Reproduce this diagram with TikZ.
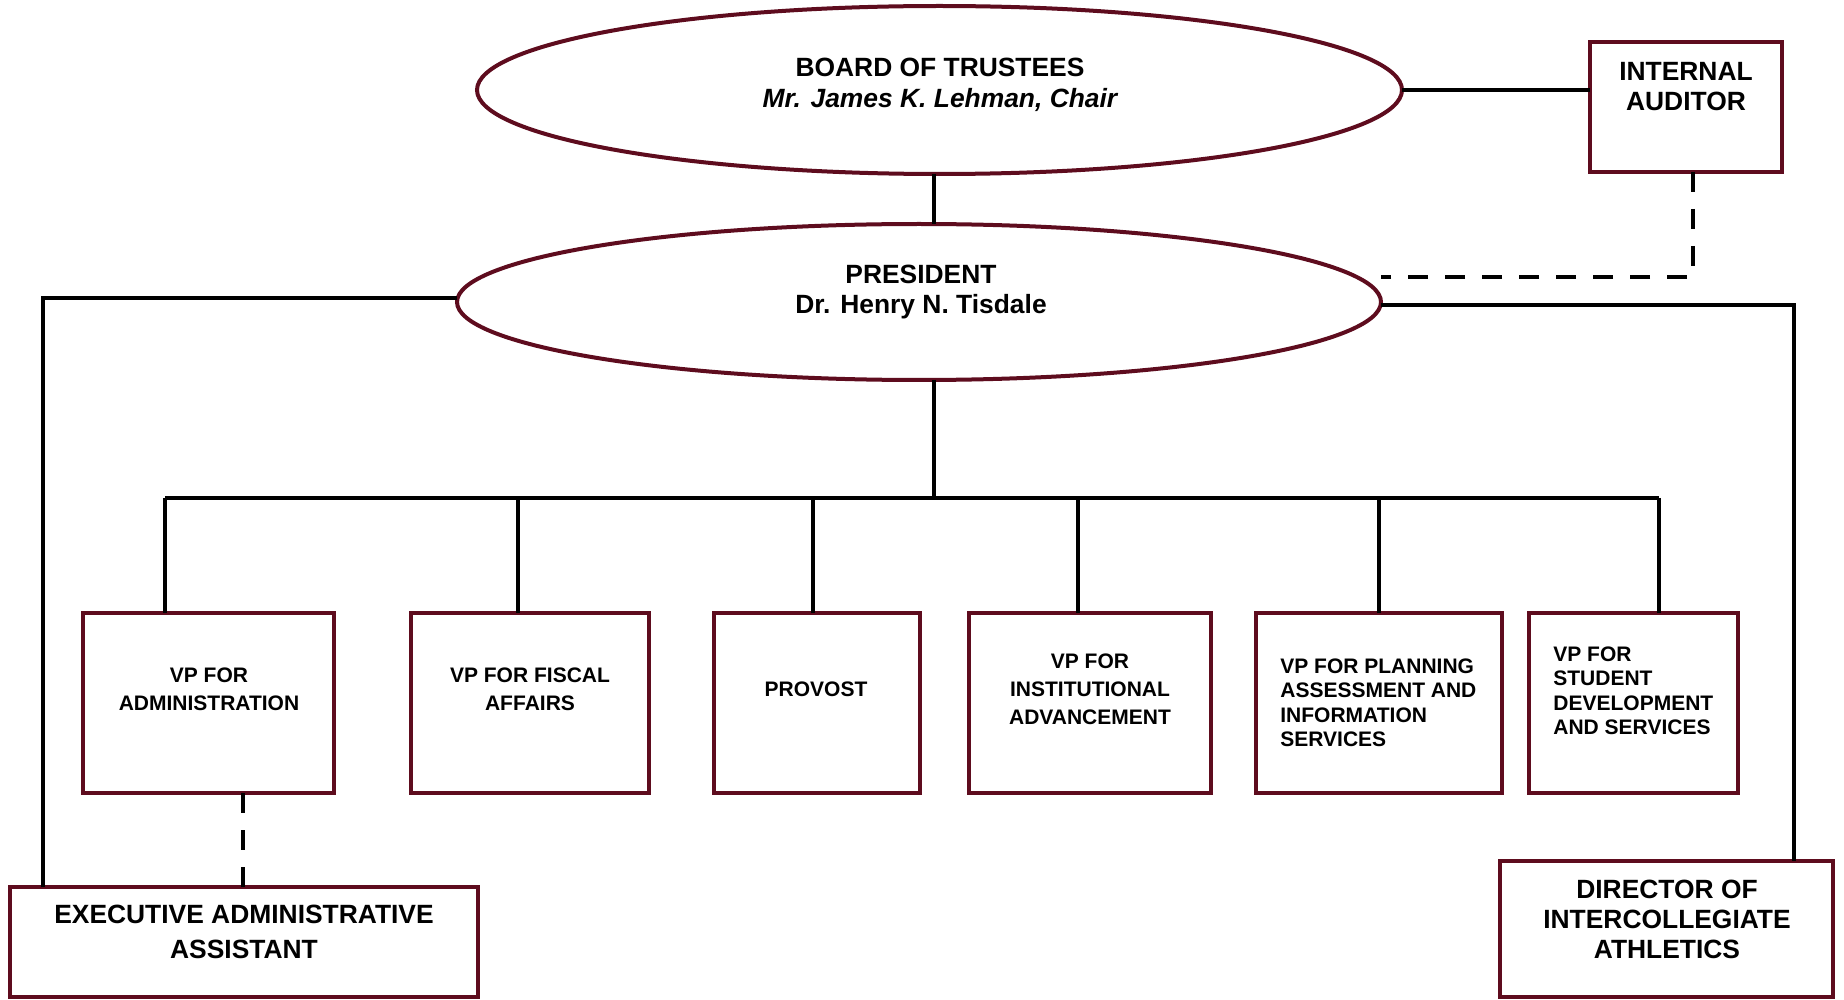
\documentclass[tikz,border=0pt]{standalone}
\usepackage{fontspec}
\setmainfont{Liberation Sans}
\usetikzlibrary{shapes.geometric}
\definecolor{trmaroon}{RGB}{94,12,30}
\begin{document}
\begin{tikzpicture}[x=0.5pt,y=-0.5pt,
  shapebox/.style={draw=trmaroon, line width=2pt, fill=white, rectangle, inner sep=0pt, outer sep=0pt},
  oval/.style={draw=trmaroon, line width=2pt, fill=white, ellipse, inner sep=0pt, outer sep=0pt},
  conn/.style={line width=2.4pt, draw=black},
  dashconn/.style={line width=2.4pt, draw=black, dash pattern=on 10pt off 8.5pt},
  bigtxt/.style={font=\bfseries\fontsize{13.2}{15}\selectfont, inner sep=0pt, align=center, anchor=north},
  smalltxt/.style={font=\bfseries\fontsize{10.5}{14}\selectfont, inner sep=0pt, align=center, anchor=north},
  leftsmall/.style={font=\bfseries\fontsize{10.5}{12.3}\selectfont, inner sep=0pt, align=left, anchor=north west},
]
\useasboundingbox (0,0) rectangle (1844,1000);

% shapes
\node[oval, minimum width=462.5pt, minimum height=84pt] (board) at (939.5,90) {};
\node[oval, minimum width=462pt, minimum height=78pt] (pres) at (919,302) {};
\node[shapebox, minimum width=96pt, minimum height=65pt] (aud) at (1686,107) {};
\node[shapebox, minimum width=125.5pt, minimum height=90pt] (b1) at (208.5,703) {};
\node[shapebox, minimum width=119pt, minimum height=90pt] (b2) at (530,703) {};
\node[shapebox, minimum width=103pt, minimum height=90pt] (b3) at (817,703) {};
\node[shapebox, minimum width=121pt, minimum height=90pt] (b4) at (1090,703) {};
\node[shapebox, minimum width=123pt, minimum height=90pt] (b5) at (1379,703) {};
\node[shapebox, minimum width=104.5pt, minimum height=90pt] (b6) at (1633.5,703) {};
\node[shapebox, minimum width=234pt, minimum height=55pt] (exec) at (244,942) {};
\node[shapebox, minimum width=166.5pt, minimum height=68pt] (dir) at (1666.5,929) {};

% texts
\node[bigtxt, font=\bfseries\fontsize{13.2}{15.3}\selectfont] (tboard) at (940,58) {BOARD OF TRUSTEES\\\itshape Mr. James K. Lehman, Chair};
\node[bigtxt] (tpres) at (921,265) {PRESIDENT\\Dr. Henry N. Tisdale};
\node[bigtxt] (taud) at (1686,62) {INTERNAL\\AUDITOR};
\node[bigtxt, font=\bfseries\fontsize{13.2}{17.5}\selectfont] (texec) at (244,905) {EXECUTIVE ADMINISTRATIVE\\ASSISTANT};
\node[bigtxt] (tdir) at (1667,880) {DIRECTOR OF\\INTERCOLLEGIATE\\ATHLETICS};
\node[smalltxt] (tb1) at (209,667) {VP FOR\\ADMINISTRATION};
\node[smalltxt] (tb2) at (530,667) {VP FOR FISCAL\\AFFAIRS};
\node[smalltxt] (tb3) at (816,681) {PROVOST};
\node[smalltxt] (tb4) at (1090,653) {VP FOR\\INSTITUTIONAL\\ADVANCEMENT};
\node[leftsmall] (tb5) at (1280,658) {VP FOR PLANNING\\ASSESSMENT AND\\INFORMATION\\SERVICES};
\node[leftsmall] (tb6) at (1553,646) {VP FOR\\STUDENT\\DEVELOPMENT\\AND SERVICES};

% junction coordinates
\coordinate (vmain) at (934,498);
\coordinate (dk) at (1693,277);
\coordinate (lc) at (43,298);
\coordinate (rc) at (1794,305);
\coordinate (j1) at (165,498);
\coordinate (j2) at (518,498);
\coordinate (j3) at (813,498);
\coordinate (j4) at (1078,498);
\coordinate (j5) at (1379,498);
\coordinate (j6) at (1659,498);
\coordinate (ed) at (243,840);

% connectors
\draw[conn] (board.east) -- (board.east -| aud.west);
\draw[conn] (board.south -| vmain) -- (pres.north -| vmain);
\draw[dashconn] (aud.south -| dk) -- (dk) -- (dk -| pres.east);
\draw[conn] (pres.west |- lc) -- (lc) -- (lc |- exec.north);
\draw[conn] (pres.east |- rc) -- (rc) -- (rc |- dir.north);
\draw[conn] (pres.south -| vmain) -- (vmain);
\draw[conn] (j1) -- (j6);
\draw[conn] (j1) -- (j1 |- b1.north);
\draw[conn] (j2) -- (j2 |- b2.north);
\draw[conn] (j3) -- (j3 |- b3.north);
\draw[conn] (j4) -- (j4 |- b4.north);
\draw[conn] (j5) -- (j5 |- b5.north);
\draw[conn] (j6) -- (j6 |- b6.north);
\draw[dashconn] (b1.south -| ed) -- (exec.north -| ed);
\end{tikzpicture}
\end{document}
